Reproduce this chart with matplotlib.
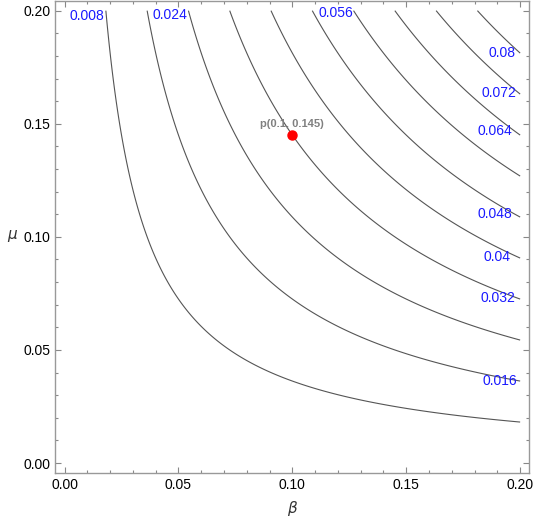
import numpy as np
import matplotlib.pyplot as plt
from matplotlib.ticker import MultipleLocator

plt.rcParams['font.family'] = ['Liberation Sans', 'DejaVu Sans']

# contour levels and the marked point
levels = [0.008, 0.016, 0.024, 0.032, 0.04, 0.048, 0.056, 0.064, 0.072, 0.08]
point = (0.1, 0.145)
point_label = "p(0.1, 0.145)"
k = 2.207  # f = k * beta * mu

# which levels get a label, and where (beta, mu)
label_levels = [0.008, 0.024, 0.056, 0.08, 0.072, 0.064, 0.048, 0.04, 0.032, 0.016]
label_pos = [(0.0098, 0.1977), (0.0463, 0.1981), (0.1191, 0.1990), (0.1920, 0.1814),
             (0.1907, 0.1637), (0.1890, 0.1470), (0.1890, 0.1103), (0.1898, 0.0909),
             (0.1902, 0.0728), (0.1911, 0.0362)]

beta = np.linspace(0, 0.2, 400)
mu = np.linspace(0, 0.2, 400)
B, M = np.meshgrid(beta, mu)
F = k * B * M

fig = plt.figure(figsize=(5.33, 5.25), dpi=100)
ax = fig.add_axes([55 / 533, 1 - 473 / 525, (528.8 - 55) / 533, (473 - 0.7) / 525])

ax.contour(B, M, F, levels=levels, colors='#555555', linewidths=0.8)

for lev, (x, y) in zip(label_levels, label_pos):
    ax.text(x, y, f"{lev:g}", color='#1a1aff', fontsize=10, ha='center', va='center')

ax.plot(point[0], point[1], 'o', color='red', markersize=6.5, zorder=5)
ax.text(point[0], point[1] + 0.0048, point_label, color='gray', fontsize=8,
        fontweight='bold', ha='center', va='center')

ax.set_xlim(-0.0042, 0.2038)
ax.set_ylim(-0.0044, 0.2044)

ax.xaxis.set_major_locator(MultipleLocator(0.05))
ax.xaxis.set_minor_locator(MultipleLocator(0.01))
ax.yaxis.set_major_locator(MultipleLocator(0.05))
ax.yaxis.set_minor_locator(MultipleLocator(0.01))
ax.xaxis.set_major_formatter(plt.FuncFormatter(lambda v, p: f"{v:.2f}"))
ax.yaxis.set_major_formatter(plt.FuncFormatter(lambda v, p: f"{v:.2f}"))

ax.tick_params(which='both', direction='in', top=True, right=True, color='#888888',
               labelsize=10, width=0.8)
ax.tick_params(which='major', length=4.5)
ax.tick_params(which='minor', length=2.5)
for s in ax.spines.values():
    s.set_color('#999999')
    s.set_linewidth(1)

fig.text(293 / 533, 1 - 508 / 525, r'$\beta$', fontsize=11, ha='center', va='center',
         color='#333333')
fig.text(13 / 533, 1 - 236 / 525, r'$\mu$', fontsize=11, ha='center', va='center',
         color='#333333')

fig.savefig('out.png', dpi=100)
